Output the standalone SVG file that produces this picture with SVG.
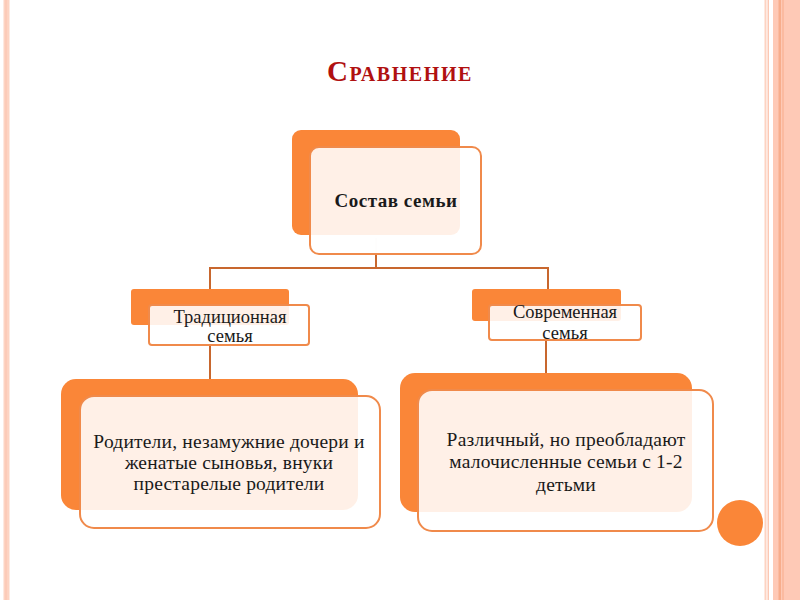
<svg xmlns="http://www.w3.org/2000/svg" width="800" height="600" viewBox="0 0 800 600">
<style>
.back{fill:#fa8638}
.front{fill:#ffffff;fill-opacity:0.88;stroke:#f08a4b;stroke-width:2}
.t{font-family:"Liberation Serif","Times New Roman",serif;fill:#1a1a1a;text-anchor:middle}
.conn{stroke:#c8672e;stroke-width:2;fill:none}
</style>
<rect width="800" height="600" fill="#ffffff"/>
<rect x="3.5" y="0" width="6" height="600" fill="#fdd3c2"/>
<rect x="5.5" y="0" width="1" height="600" fill="#fbc3ad"/>
<rect x="764.5" y="0" width="2" height="600" fill="#fdd3c2"/>
<rect x="767.5" y="0" width="1.5" height="600" fill="#fcc8b4"/>
<rect x="773" y="0" width="27" height="600" fill="#fec9b6"/>
<rect x="778.5" y="0" width="2.5" height="600" fill="#f7ad8c"/>
<rect x="782" y="0" width="2" height="600" fill="#fbbaa0"/>
<text x="400" y="81" font-family="Liberation Serif,'Times New Roman',serif" font-weight="bold" font-size="29" fill="#b01010" text-anchor="middle" font-variant="small-caps" letter-spacing="1.6">Сравнение</text>
<g id="connectors">
<line x1="376" y1="238" x2="376" y2="254" stroke="#e8e0dc" stroke-width="1"/>
<path class="conn" d="M376 254 V268 M210 290 V268 H548 V290"/>
<line class="conn" x1="210" y1="345" x2="210" y2="380"/>
<line class="conn" x1="546" y1="340" x2="546" y2="373"/>
</g>
<g id="node-root">
<rect class="back" x="292" y="130" width="168" height="105" rx="9"/>
<rect class="front" x="310" y="147" width="171" height="107" rx="9"/>
<text class="t" x="396" y="207" font-size="19" font-weight="bold" letter-spacing="0.5">Состав семьи</text>
</g>
<g id="node-trad">
<rect class="back" x="131" y="289" width="158" height="36" rx="3"/>
<rect class="front" x="149" y="305" width="160" height="40" rx="3"/>
<text class="t" x="230" y="323" font-size="18.5">Традиционная</text>
<text class="t" x="230" y="342" font-size="18.5">семья</text>
</g>
<g id="node-modern">
<rect class="back" x="472" y="289" width="149" height="32" rx="3"/>
<rect class="front" x="489" y="305" width="152" height="35" rx="3"/>
<text class="t" x="565" y="318" font-size="18.5">Современная</text>
<text class="t" x="565" y="339" font-size="18.5">семья</text>
</g>
<g id="node-trad-detail">
<rect class="back" x="61" y="379" width="297" height="131" rx="15"/>
<rect class="front" x="80" y="396" width="300" height="132" rx="14"/>
<text class="t" x="229" y="448" font-size="19.5" letter-spacing="0.2">Родители, незамужние дочери и</text>
<text class="t" x="229" y="469" font-size="19.5" letter-spacing="0.2">женатые сыновья, внуки</text>
<text class="t" x="229" y="490" font-size="19.5" letter-spacing="0.2">престарелые родители</text>
</g>
<g id="node-modern-detail">
<rect class="back" x="400" y="373" width="292" height="139" rx="15"/>
<rect class="front" x="418" y="390" width="295" height="141" rx="14"/>
<text class="t" x="566" y="446" font-size="19.5" letter-spacing="0.2">Различный, но преобладают</text>
<text class="t" x="566" y="468" font-size="19.5" letter-spacing="0.2">малочисленные семьи с 1-2</text>
<text class="t" x="566" y="491" font-size="19.5" letter-spacing="0.2">детьми</text>
</g>
<circle cx="740" cy="523" r="23" fill="#fa8638"/>
</svg>
